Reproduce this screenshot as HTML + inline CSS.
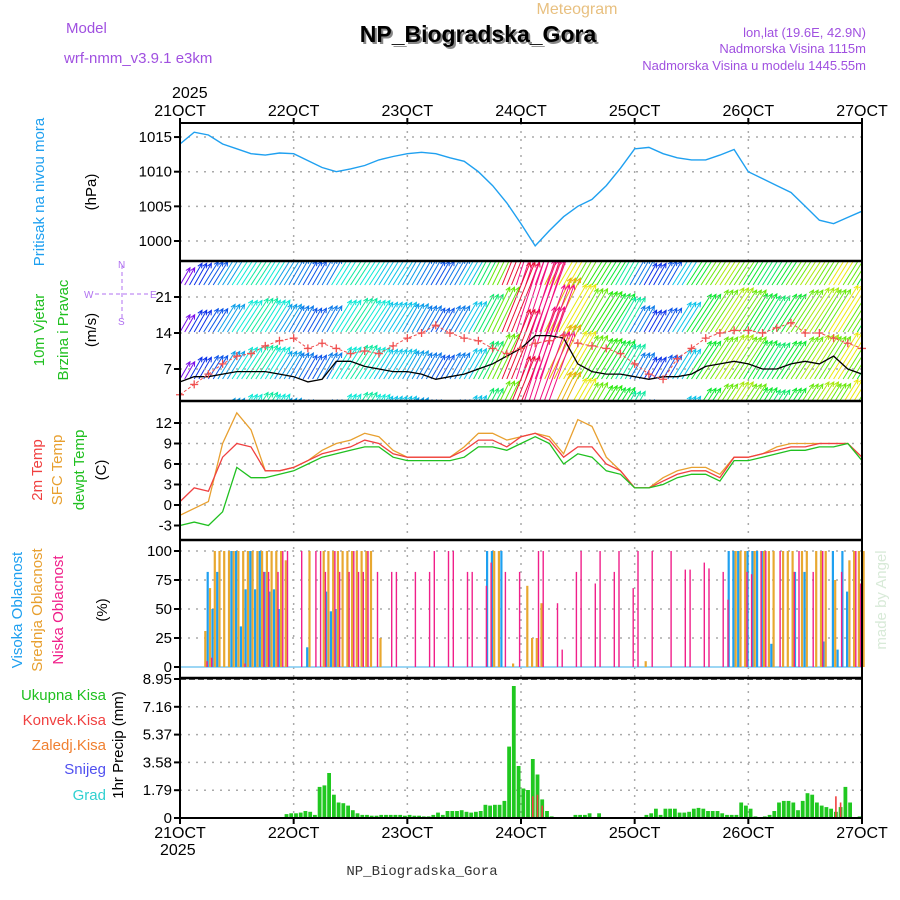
<!DOCTYPE html>
<html><head><meta charset="utf-8"><style>
body{margin:0;background:#fff;}
svg{display:block;font-family:"Liberation Sans",sans-serif;}
</style></head><body>
<svg id="c" width="900" height="900" viewBox="0 0 900 900">
<defs><clipPath id="wclip"><rect x="180" y="262" width="682" height="138"/></clipPath></defs>
<text x="66" y="33" font-size="15" fill="#a050e0">Model</text>
<text x="64" y="63" font-size="15" fill="#a050e0">wrf-nmm_v3.9.1 e3km</text>
<text x="577" y="14" font-size="16" fill="#e8c080" text-anchor="middle">Meteogram</text>
<text x="480" y="44" font-size="23" font-weight="bold" fill="#888" text-anchor="middle">NP_Biogradska_Gora</text>
<text x="478" y="42" font-size="23" font-weight="bold" fill="#000" text-anchor="middle">NP_Biogradska_Gora</text>
<text x="866" y="37" font-size="13" fill="#a050e0" text-anchor="end">lon,lat (19.6E, 42.9N)</text>
<text x="866" y="53" font-size="13" fill="#a050e0" text-anchor="end">Nadmorska Visina 1115m</text>
<text x="866" y="70" font-size="13" fill="#a050e0" text-anchor="end">Nadmorska Visina u modelu 1445.55m</text>
<text x="422" y="875" font-size="14" fill="#333" text-anchor="middle" font-family="Liberation Mono,monospace">NP_Biogradska_Gora</text>
<text x="172" y="98" font-size="16" fill="#000">2025</text>
<text x="160" y="855" font-size="16" fill="#000">2025</text>
<text transform="translate(44,192) rotate(-90)" font-size="15" fill="#1fa0f0" text-anchor="middle">Pritisak na nivou mora</text>
<text transform="translate(96,192) rotate(-90)" font-size="15" fill="#000" text-anchor="middle">(hPa)</text>
<text transform="translate(44,330) rotate(-90)" font-size="15" fill="#20c020" text-anchor="middle">10m Vjetar</text>
<text transform="translate(68,330) rotate(-90)" font-size="15" fill="#20c020" text-anchor="middle">Brzina i Pravac</text>
<text transform="translate(96,330) rotate(-90)" font-size="15" fill="#000" text-anchor="middle">(m/s)</text>
<g fill="#b070f0" font-size="10" stroke="none">
<line x1="122" y1="265" x2="122" y2="322" stroke="#b070f0" stroke-dasharray="4,3"/>
<line x1="95" y1="294" x2="150" y2="294" stroke="#b070f0" stroke-dasharray="4,3"/>
<text x="118" y="268">N</text><text x="118" y="325">S</text><text x="84" y="298">W</text><text x="150" y="298">E</text></g>
<text transform="translate(42,470) rotate(-90)" font-size="15" fill="#f04040" text-anchor="middle">2m Temp</text>
<text transform="translate(62,470) rotate(-90)" font-size="15" fill="#e8a030" text-anchor="middle">SFC Temp</text>
<text transform="translate(84,470) rotate(-90)" font-size="15" fill="#20c020" text-anchor="middle">dewpt Temp</text>
<text transform="translate(106,470) rotate(-90)" font-size="15" fill="#000" text-anchor="middle">(C)</text>
<text transform="translate(22,610) rotate(-90)" font-size="15" fill="#1fa0f0" text-anchor="middle">Visoka Oblacnost</text>
<text transform="translate(42,610) rotate(-90)" font-size="15" fill="#e8a030" text-anchor="middle">Srednja Oblacnost</text>
<text transform="translate(63,610) rotate(-90)" font-size="15" fill="#f0208a" text-anchor="middle">Niska Oblacnost</text>
<text transform="translate(107,610) rotate(-90)" font-size="15" fill="#000" text-anchor="middle">(%)</text>
<text transform="translate(123,745) rotate(-90)" font-size="15" fill="#000" text-anchor="middle">1hr Precip (mm)</text>
<g font-size="15" text-anchor="end">
<text x="106" y="700" fill="#20c020">Ukupna Kisa</text>
<text x="106" y="725" fill="#f04040">Konvek.Kisa</text>
<text x="106" y="750" fill="#f08030">Zaledj.Kisa</text>
<text x="106" y="774" fill="#5050f0">Snijeg</text>
<text x="106" y="800" fill="#30d0d0">Grad</text></g>
<text transform="translate(886,600) rotate(-90)" font-size="15" fill="#d8ead8" text-anchor="middle">made by Angel</text>
<g id="plots"></g>
</svg>
<script>
const dayLabels=["21OCT","22OCT","23OCT","24OCT","25OCT","26OCT","27OCT"];
const pressure=[1014,1015.7,1015.3,1014,1013.3,1012.6,1012.4,1012.7,1012.6,1011.6,1010.6,1010,1010.4,1010.9,1011.7,1012.2,1012.6,1012.8,1012.6,1012,1011.5,1010,1008,1005.5,1002.5,999.3,1001.5,1003.5,1005,1006,1008,1010.5,1013.3,1013.5,1012.6,1012,1011.7,1011.7,1012.4,1013.2,1010,1009,1008,1007,1005,1003,1002.5,1003.4,1004.3];
const pressureTicks=[1000,1005,1010,1015];
const windSpeed=[4.5,5.5,5.5,6,6.5,6.5,6.5,6,5.5,4.5,5,8.5,8.5,7.5,7,6.5,6.5,6,5,5.5,6,7,8,9.5,11,13.5,13.5,13,8,6.5,6,6,5.5,5,5.5,5.5,6,7.5,8,8.5,8,7,7,8,8.5,8,9.5,7,6];
const windGust=[2,4,6,8,9.5,10,11.5,12.5,13,11,12,11,10,10.5,10,11.5,13,14,15.5,14,13,12.5,11,10,11,12,12.5,13.5,12,11.5,11,10,8,6,5,9,11,13,14,14.5,14.5,14,15,16,14,14,13,12,11];
const arrowSpeed=[4,5,5.5,6.5,7.5,8,7.5,6.5,6,5.5,6,7.5,8,7.5,7,7,6.5,6,5.5,6,7,8.5,10,15,25,20,12,11,10,9.5,9,8,6,5,5.5,7,9,10,10.5,10,9,8.5,9,10,10.5,10,11,10,9];
const arrowDir=[30,30,32,32,33,33,32,32,30,30,30,32,33,33,32,32,30,30,30,30,30,28,26,22,18,20,26,30,30,32,32,30,30,30,30,32,33,33,33,33,32,32,33,33,33,32,32,32,32];
const windTicks=[7,14,21];
const temp2m=[0.5,2.5,2,7,9,8.5,5,5,5.5,6.5,7.5,8,8.5,9.5,9,7.5,7,7,7,7,8,9.5,9.5,8.5,10,10.5,9.5,7,8.5,8.5,6,5,2.5,2.5,3.5,4.5,5,5,4,7,7,7.5,8,8.5,8.5,9,9,9,7];
const tempSfc=[-1.5,-0.5,0.5,9,13.5,11,5,5,5.5,6.5,8,9,9.5,10.5,10,8,7,7,7,7,8.5,10.5,10.5,9.5,10,10.5,10,7.5,12.5,11.5,7,5,2.5,2.5,4,5,5.5,5.5,4.5,7,7,7.5,8.5,9,9,9,9,9,7];
const tempDew=[-3,-2.5,-3,-1,5.5,4,4,4.5,5,6,7,7.5,8,8.5,8.5,7,6.5,6.5,6.5,6.5,7,8.5,8.5,8,9,10,9,6,7.5,7,5,4.5,2.5,2.5,3,4,4.5,4.5,3.5,6.5,6.5,7,7.5,8,8,8.5,8.5,9,6.5];
const tempTicks=[-3,0,3,6,9,12];
const cloudLow=[0,0,0,0,0,5,8,0,0,0,0,0,0,3,0,0,0,82,82,0,82,100,100,0,0,100,0,0,100,100,82,0,100,82,0,82,100,82,82,100,0,82,0,0,82,82,0,0,0,82,0,0,82,100,0,0,100,100,0,0,82,82,0,0,70,90,0,0,82,0,0,82,0,0,0,100,100,0,0,55,15,0,0,82,100,0,0,72,100,0,0,82,100,0,0,68,100,0,0,100,0,0,0,100,0,0,84,84,0,0,90,85,0,0,82,58,0,0,0,82,80,0,100,100,0,0,100,0,0,82,100,0,0,82,0,100,0,0,0,82,0,0,100,72,0];
const cloudMid=[0,0,0,0,0,31,68,100,100,100,100,100,100,100,100,100,100,100,100,100,100,100,92,0,0,0,0,100,0,0,100,100,100,100,100,100,100,100,100,100,100,0,25,0,0,0,0,0,0,0,0,0,0,0,0,0,0,0,0,0,0,0,0,0,0,0,100,100,0,0,3,0,0,70,25,25,55,0,0,0,0,0,0,0,0,0,0,0,0,0,0,0,0,0,0,0,0,0,5,0,0,0,0,0,0,0,0,0,0,0,0,0,0,0,0,0,0,100,100,100,0,100,0,100,100,100,0,100,100,100,0,100,100,0,100,100,100,0,75,0,0,92,100,100,100];
const cloudHigh=[0,0,0,0,0,0,82,50,82,0,0,100,100,35,67,100,67,100,82,65,67,50,0,0,0,0,0,17,0,0,0,65,48,50,0,0,0,0,0,0,0,0,0,0,0,0,0,0,0,0,0,0,0,0,0,0,0,0,0,0,0,0,0,0,0,100,100,0,100,0,0,0,0,0,0,0,0,0,0,0,0,0,0,0,0,0,0,0,0,0,0,0,0,0,0,0,0,0,0,0,0,0,0,0,0,0,0,0,0,0,0,0,0,0,0,0,100,100,100,0,100,100,100,100,0,20,0,0,0,0,82,0,82,0,0,0,22,0,100,15,100,65,0,0,0];
const cloudTicks=[0,25,50,75,100];
const precipTotal=[0,0,0,0,0,0,0,0,0,0,0,0,0,0,0,0,0,0,0,0,0,0,0.25,0.3,0.3,0.35,0.45,0.4,0.2,2.0,2.1,2.9,1.5,1.0,0.95,0.8,0.5,0.3,0.2,0.2,0.15,0.15,0.2,0.2,0.2,0.2,0.2,0.15,0.2,0.15,0.15,0.1,0.1,0.2,0.35,0.2,0.45,0.45,0.45,0.5,0.4,0.35,0.4,0.45,0.85,0.8,0.85,0.85,1.1,4.6,8.5,3.35,1.9,1.8,3.8,2.8,1.2,0.45,0.1,0,0,0,0,0.2,0.2,0.2,0.3,0,0.3,0,0,0,0,0,0,0,0,0,0.2,0.3,0.6,0.2,0.6,0.6,0.6,0.35,0.35,0.4,0.6,0.65,0.6,0.45,0.45,0.45,0.3,0.2,0.2,0.2,1.0,0.8,0.6,0.1,0,0.1,0.2,0.45,1.0,1.1,1.1,1.0,0.5,1.1,1.6,1.5,1.0,0.8,0.7,0.6,0.4,0.7,2.0,1.0,0,0.1,0];
const precipConv=[0,0,0,0,0,0,0,0,0,0,0,0,0,0,0,0,0,0,0,0,0,0,0,0,0,0,0,0,0,0,0,0,0,0,0,0,0,0,0,0,0,0,0,0,0,0,0,0,0,0,0,0,0,0,0,0,0,0,0,0,0,0,0,0,0,0,0,0,0,0,0,0,0,0,1.4,1.5,0.8,0,0,0,0,0,0,0,0,0,0,0,0,0,0,0,0,0,0,0,0,0,0,0,0,0,0,0,0,0,0,0,0,0,0,0,0,0,0,0,0,0,0,0,0,0,0,0,0,0,0,0,0,0,0,0,0,0,0,0,0,0,1.4,1.0,0,0,0];
const precipTicks=["0","1.79","3.58","5.37","7.16","8.95"];

const NS="http://www.w3.org/2000/svg";
const G=document.getElementById('plots');
const L=180,R=862;
function xh(h){return L+h*(R-L)/144;}
function yP(v){return 241-(v-1000)*6.93;}
function yW(v){return 369-(v-7)*36/7;}
function yT(v){return 505-v*82/12;}
function yC(v){return 667-v*1.16;}
function yR(v){return 818-v*139/8.95;}
function el(t,a,p){const e=document.createElementNS(NS,t);for(const k in a)e.setAttribute(k,a[k]);(p||G).appendChild(e);return e;}
function txt(x,y,s,a,p){const e=el('text',Object.assign({x:x,y:y},a),p);e.textContent=s;return e;}
function grid(y){const e=el('line',{x1:L,x2:R,y1:y,y2:y,stroke:'#aaa','stroke-dasharray':'2,6','stroke-width':1.5});

}
function ytick(y,s){el('line',{x1:L-6,x2:L,y1:y,y2:y,stroke:'#000','stroke-width':2});
const t=txt(L-8,y+5,s,{'font-size':15,'text-anchor':'end',fill:'#000'});

}
function line(arr,yf,col,name,w){let d='';arr.forEach((v,i)=>{d+=(i?'L':'M')+xh(i*3).toFixed(1)+','+yf(v).toFixed(1);});
const e=el('path',{d:d,fill:'none',stroke:col,'stroke-width':w||1.3});

return e;}
for(let d=1;d<6;d++){const e=el('line',{x1:xh(d*24),x2:xh(d*24),y1:123,y2:818,stroke:'#aaa','stroke-dasharray':'2,6','stroke-width':1.5});

}
pressureTicks.forEach(v=>{grid(yP(v));ytick(yP(v),String(v));});
line(pressure,yP,'#1fa0f0','pressure-line',1.4);
const wg=el('g',{'clip-path':'url(#wclip)'});


function wcol(s){let h;if(s<5)h=270-(s-4)*40;else if(s<7)h=230-(s-5)*20;else if(s<9)h=190-(s-7)*30;else if(s<11)h=130-(s-9)*35;else if(s<13)h=60-(s-11)*15;else if(s<16)h=30-(s-13)*20;else h=330;return 'hsl('+((h+360)%360)+',90%,'+(s>=16?'50%':'48%')+')';}
windTicks.forEach(v=>{grid(yW(v));ytick(yW(v),String(v));});
[285,332,379,426].forEach(base=>{
for(let h=0;h<=144;h++){const i=Math.min(48,Math.round(h/3));const s=arrowSpeed[i],a=arrowDir[i]*Math.PI/180,len=s*5;
const x0=xh(h),y0=base,x1=x0+Math.sin(a)*len,y1=y0-Math.cos(a)*len;const c=wcol(s);
const ah=5,b1=a+Math.PI-0.45,b2=a+Math.PI+0.45;
el('path',{d:`M${x0.toFixed(1)},${y0}L${x1.toFixed(1)},${y1.toFixed(1)}M${(x1+Math.sin(b1)*ah).toFixed(1)},${(y1-Math.cos(b1)*ah).toFixed(1)}L${x1.toFixed(1)},${y1.toFixed(1)}L${(x1+Math.sin(b2)*ah).toFixed(1)},${(y1-Math.cos(b2)*ah).toFixed(1)}`,stroke:c,fill:'none','stroke-width':1},wg);}});
line(windSpeed,yW,'#000','wind-speed-line',1.3);
line(windGust,yW,'#f05050','wind-gust-line',1).setAttribute('stroke-dasharray','3,2');
windGust.forEach((v,i)=>{const x=xh(i*3),y=yW(v);const m=el('path',{d:`M${x-4},${y}h8M${x},${y-4}v8`,stroke:'#f05050','stroke-width':1.3});

});
tempTicks.forEach(v=>{if(v>-3)grid(yT(v));ytick(yT(v),String(v));});
line(tempSfc,yT,'#e8a030','sfc-temp-line');
line(temp2m,yT,'#f04040','temp-2m-line');
line(tempDew,yT,'#20c020','dewpoint-line');
cloudTicks.forEach(v=>{if(v>0)grid(yC(v));ytick(yC(v),String(v));});
el('line',{x1:L,x2:R,y1:667,y2:667,stroke:'#7cc8f0','stroke-width':1.5});
function cbars(arr,col,off,w,name){arr.forEach((v,h)=>{if(v<=0)return;const r=el('rect',{x:(xh(h)+off).toFixed(1),y:yC(v).toFixed(1),width:w,height:(667-yC(v)).toFixed(1),fill:col});

});}
cbars(cloudMid,'#e8a830',0.5,2.2,'mid-cloud-bar');
cbars(cloudHigh,'#1fa0f0',-1.8,2.2,'high-cloud-bar');
cbars(cloudLow,'#f0208a',2.6,1.4,'low-cloud-bar');
precipTicks.forEach(s=>{const v=parseFloat(s);if(v>0&&v<8.9)grid(yR(v));ytick(yR(v),s);});
el('line',{x1:L,x2:R,y1:679,y2:679,stroke:'#000','stroke-dasharray':'6,3','stroke-width':1.5});
precipTotal.forEach((v,h)=>{if(v<=0)return;const r=el('rect',{x:(xh(h)+0.4).toFixed(1),y:yR(v).toFixed(1),width:3.8,height:(818-yR(v)).toFixed(1),fill:'#20c820'});

});
precipConv.forEach((v,h)=>{if(v<=0)return;const r=el('rect',{x:(xh(h)+1.5).toFixed(1),y:yR(v).toFixed(1),width:1.6,height:(818-yR(v)).toFixed(1),fill:'#f04040'});

});
[[123,261],[261,401],[401,540],[540,678],[678,818]].forEach(p=>{const r=el('rect',{x:L,y:p[0],width:R-L,height:p[1]-p[0],fill:'none',stroke:'#000','stroke-width':2});

});
[261,401,540,678].forEach(y=>el('line',{x1:L,x2:R,y1:y,y2:y,stroke:'#000','stroke-width':2.5}));
dayLabels.forEach((s,i)=>{const x=xh(i*24);
el('line',{x1:x,x2:x,y1:118,y2:123,stroke:'#000','stroke-width':2});
el('line',{x1:x,x2:x,y1:818,y2:824,stroke:'#000','stroke-width':2});
const a=txt(x,116,s,{'font-size':16,'text-anchor':'middle',fill:'#000'});


const b=txt(x,838,s,{'font-size':16,'text-anchor':'middle',fill:'#000'});

});
</script>
</body></html>
